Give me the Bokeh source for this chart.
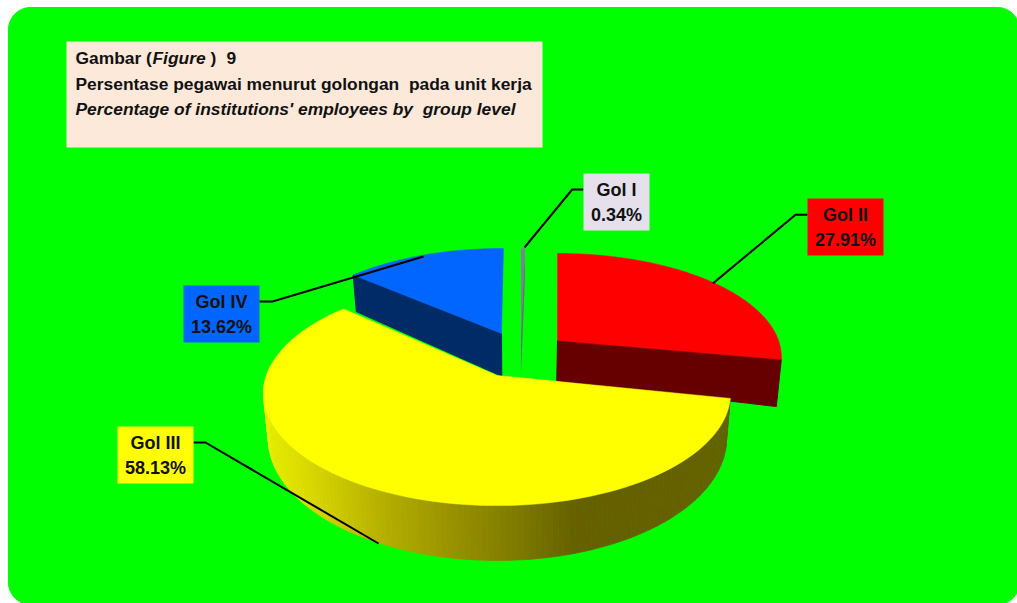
import numpy as np
from bokeh.plotting import figure
from bokeh.models import Range1d
from bokeh.core.properties import value
from bokeh.embed import file_html
from bokeh.resources import INLINE

# ---- data ----
categories = ["Gol I", "Gol II", "Gol III", "Gol IV"]
shares = [0.34, 27.91, 58.13, 13.62]
percent_labels = ["0.34%", "27.91%", "58.13%", "13.62%"]
title_line_1 = ["Gambar (", "Figure", ")", "9"]
title_line_2 = "Persentase pegawai menurut golongan\u00a0 pada unit kerja"
title_line_3 = "Percentage of institutions' employees by\u00a0 group level"

# ---- style / layout ----
FONT = value("Liberation Sans")
TOP = ["#80809c", "#ff0000", "#ffff00", "#0066ff"]
SIDE = ["#6a6a80", "#660000", "#666000", "#002b66"]
BOX = ["#e6e0ec", "#ff0000", "#ffff00", "#0066ff"]
APEX = [(520.5, 335), (557, 340), (496.5, 375), (501, 333)]
RX = [215, 221, 230.5, 217]
RY = [101, 101, 109.3, 98.6]
K = 0.16
# small per-slice angular nudges (degrees): the original's perspective distorts its slice edges
NUDGE_START = [0, -1.2, 0, 0]
NUDGE_END = [0, -1.2, 1.5, 0.6]
RIM_EXTRA = [0, 5, 0, 2]
APEX_EXTRA = [0, 0, 0, 3]
BOXES = [(583, 649, 173, 230), (807, 883, 198, 255), (117, 193, 426, 483), (183, 259, 285, 342)]
LEADERS = [([583, 571.7, 524], [189, 189, 247]),
           ([807, 795, 712.3], [214.3, 214.3, 283]),
           ([193, 205, 378], [442, 442, 543]),
           ([259, 272, 423], [301, 301, 256])]

p = figure(width=1017, height=603, output_backend="svg", toolbar_location=None,
           x_range=Range1d(0, 1017), y_range=Range1d(603, 0), min_border=0,
           x_axis_type=None, y_axis_type=None, background_fill_color="white",
           border_fill_color="white", outline_line_color=None)
p.grid.visible = False

# green rounded panel
def rounded(x0, x1, y0, y1, r):
    xs, ys = [], []
    for cx, cy, a0 in [(x0 + r, y0 + r, 180), (x1 - r, y0 + r, 270), (x1 - r, y1 - r, 0), (x0 + r, y1 - r, 90)]:
        t = np.radians(np.linspace(a0, a0 + 90, 16))
        xs += list(cx + r * np.cos(t))
        ys += list(cy + r * np.sin(t))
    return xs, ys
gx, gy = rounded(8, 1019, 7, 604, 22)
p.patch(gx, gy, fill_color="#00ff00", line_color="#00ff00")

# pie geometry derived from the shares
edges = np.concatenate([[0], np.cumsum(shares)]) / sum(shares) * 2 * np.pi
starts = [edges[i] + np.radians(NUDGE_START[i]) for i in range(4)]
ends = [edges[i + 1] + np.radians(NUDGE_END[i]) for i in range(4)]

def rim(i, th):
    th = np.asarray(th)
    u, v = np.sin(th), -np.cos(th)
    s = 1 / (1 - K * v)
    return APEX[i][0] + RX[i] * u * s, APEX[i][1] + RY[i] * v * s

def drop(x, y):
    return 517 + 0.981 * (np.asarray(x) - 517), 10.5 + 1.088 * np.asarray(y)

def cut_face(i, th):
    x, y = rim(i, th)
    ax, ay = APEX[i]
    bx, by = drop(x, y)
    bax, bay = drop(ax, ay)
    return ([ax, float(x), float(bx), float(bax)],
            [ay, float(y), float(by) + RIM_EXTRA[i], float(bay) + APEX_EXTRA[i]])

def top_face(i):
    th = np.linspace(starts[i], ends[i], 120)
    x, y = rim(i, th)
    return [APEX[i][0]] + list(x), [APEX[i][1]] + list(y)

# Gol IV
fx, fy = cut_face(3, starts[3])
p.patch(fx, fy, fill_color=SIDE[3], line_color=SIDE[3])
tx, ty = top_face(3)
p.patch(tx, ty, fill_color=TOP[3], line_color=TOP[3], line_width=0.5)
# Gol I
fx, fy = cut_face(0, ends[0])
p.patch(fx, fy, fill_color=SIDE[0], line_color=None)
tx, ty = top_face(0)
p.patch(tx, ty, fill_color=TOP[0], line_color=None)
# Gol II
fx, fy = cut_face(1, ends[1])
p.patch(fx, fy, fill_color=SIDE[1], line_color=SIDE[1])
tx, ty = top_face(1)
p.patch(tx, ty, fill_color=TOP[1], line_color=TOP[1], line_width=0.5)

# Gol III outer wall with left-to-right shading
def shade(x):
    stops_x = [262, 300, 380, 450, 520, 575, 735]
    r = np.interp(x, stops_x, [238, 224, 184, 154, 127, 102, 102])
    g = np.interp(x, stops_x, [238, 220, 176, 146, 120, 96, 96])
    return "#%02x%02x00" % (int(r), int(g))

wall = np.linspace(starts[2], np.radians(276), 140)
wx, wy = rim(2, wall)
bx, by = drop(wx, wy)
qx, qy, qc = [], [], []
for j in range(len(wall) - 1):
    qx.append([wx[j], wx[j + 1], bx[j + 1], bx[j]])
    qy.append([wy[j], wy[j + 1], by[j + 1], by[j]])
    qc.append(shade((wx[j] + wx[j + 1]) / 2))
p.patches(qx, qy, fill_color=qc, line_color=qc, line_width=0.6)
tx, ty = top_face(2)
p.patch(tx, ty, fill_color=TOP[2], line_color=TOP[2], line_width=0.5)

# title box
p.quad(left=[66], right=[542], top=[41], bottom=[147], fill_color="#fde9d9", line_color=None)
TS = "17.4px"
def tline(x, y, s, style):
    p.text([x], [y], text=[s], text_font=FONT, text_font_size=TS, text_font_style=style,
           text_baseline="middle", text_color="#111111")
tline(75, 57.5, title_line_1[0], "bold")
tline(152, 57.5, title_line_1[1], "bold italic")
tline(210, 57.5, title_line_1[2], "bold")
tline(226, 57.5, title_line_1[3], "bold")
tline(75, 83.5, title_line_2, "bold")
tline(75, 108.5, title_line_3, "bold italic")

# labels and leaders
for i, cat in enumerate(categories):
    lx, ly = LEADERS[i]
    p.line(lx, ly, line_color="black", line_width=2)
    l, r, t, b = BOXES[i]
    p.quad(left=[l], right=[r], top=[t], bottom=[b], fill_color=BOX[i], line_color=None)
    mid = (l + r) / 2
    p.text([mid], [t + 16.5], text=[cat], text_font=FONT, text_font_size="18px", text_font_style="bold",
           text_align="center", text_baseline="middle", text_color="#111111")
    p.text([mid], [t + 41.5], text=[percent_labels[i]], text_font=FONT, text_font_size="18px", text_font_style="bold",
           text_align="center", text_baseline="middle", text_color="#111111")

open("out.html", "w").write(file_html(p, INLINE))
